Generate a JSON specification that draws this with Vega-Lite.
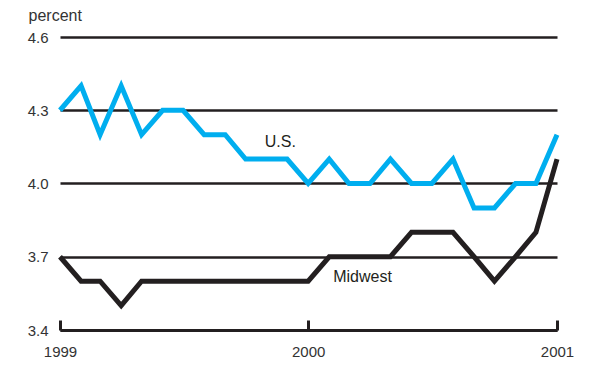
{
  "$schema": "https://vega.github.io/schema/vega-lite/v6.json",
  "width": 497,
  "height": 293,
  "autosize": {"type": "none"},
  "padding": {"left": 60, "top": 37, "right": 43, "bottom": 40},
  "background": "white",
  "config": {
    "view": {"stroke": null},
    "font": "Liberation Sans",
    "axis": {"labelFont": "Liberation Sans", "titleFont": "Liberation Sans"}
  },
  "datasets": {
    "series": [
      {"date": "1999-01-01T00:00:00", "series": "U.S.", "value": 4.3},
      {"date": "1999-02-01T00:00:00", "series": "U.S.", "value": 4.4},
      {"date": "1999-03-01T00:00:00", "series": "U.S.", "value": 4.2},
      {"date": "1999-04-01T00:00:00", "series": "U.S.", "value": 4.4},
      {"date": "1999-05-01T00:00:00", "series": "U.S.", "value": 4.2},
      {"date": "1999-06-01T00:00:00", "series": "U.S.", "value": 4.3},
      {"date": "1999-07-01T00:00:00", "series": "U.S.", "value": 4.3},
      {"date": "1999-08-01T00:00:00", "series": "U.S.", "value": 4.2},
      {"date": "1999-09-01T00:00:00", "series": "U.S.", "value": 4.2},
      {"date": "1999-10-01T00:00:00", "series": "U.S.", "value": 4.1},
      {"date": "1999-11-01T00:00:00", "series": "U.S.", "value": 4.1},
      {"date": "1999-12-01T00:00:00", "series": "U.S.", "value": 4.1},
      {"date": "2000-01-01T00:00:00", "series": "U.S.", "value": 4.0},
      {"date": "2000-02-01T00:00:00", "series": "U.S.", "value": 4.1},
      {"date": "2000-03-01T00:00:00", "series": "U.S.", "value": 4.0},
      {"date": "2000-04-01T00:00:00", "series": "U.S.", "value": 4.0},
      {"date": "2000-05-01T00:00:00", "series": "U.S.", "value": 4.1},
      {"date": "2000-06-01T00:00:00", "series": "U.S.", "value": 4.0},
      {"date": "2000-07-01T00:00:00", "series": "U.S.", "value": 4.0},
      {"date": "2000-08-01T00:00:00", "series": "U.S.", "value": 4.1},
      {"date": "2000-09-01T00:00:00", "series": "U.S.", "value": 3.9},
      {"date": "2000-10-01T00:00:00", "series": "U.S.", "value": 3.9},
      {"date": "2000-11-01T00:00:00", "series": "U.S.", "value": 4.0},
      {"date": "2000-12-01T00:00:00", "series": "U.S.", "value": 4.0},
      {"date": "2001-01-01T00:00:00", "series": "U.S.", "value": 4.2},
      {"date": "1999-01-01T00:00:00", "series": "Midwest", "value": 3.7},
      {"date": "1999-02-01T00:00:00", "series": "Midwest", "value": 3.6},
      {"date": "1999-03-01T00:00:00", "series": "Midwest", "value": 3.6},
      {"date": "1999-04-01T00:00:00", "series": "Midwest", "value": 3.5},
      {"date": "1999-05-01T00:00:00", "series": "Midwest", "value": 3.6},
      {"date": "1999-06-01T00:00:00", "series": "Midwest", "value": 3.6},
      {"date": "1999-07-01T00:00:00", "series": "Midwest", "value": 3.6},
      {"date": "1999-08-01T00:00:00", "series": "Midwest", "value": 3.6},
      {"date": "1999-09-01T00:00:00", "series": "Midwest", "value": 3.6},
      {"date": "1999-10-01T00:00:00", "series": "Midwest", "value": 3.6},
      {"date": "1999-11-01T00:00:00", "series": "Midwest", "value": 3.6},
      {"date": "1999-12-01T00:00:00", "series": "Midwest", "value": 3.6},
      {"date": "2000-01-01T00:00:00", "series": "Midwest", "value": 3.6},
      {"date": "2000-02-01T00:00:00", "series": "Midwest", "value": 3.7},
      {"date": "2000-03-01T00:00:00", "series": "Midwest", "value": 3.7},
      {"date": "2000-04-01T00:00:00", "series": "Midwest", "value": 3.7},
      {"date": "2000-05-01T00:00:00", "series": "Midwest", "value": 3.7},
      {"date": "2000-06-01T00:00:00", "series": "Midwest", "value": 3.8},
      {"date": "2000-07-01T00:00:00", "series": "Midwest", "value": 3.8},
      {"date": "2000-08-01T00:00:00", "series": "Midwest", "value": 3.8},
      {"date": "2000-09-01T00:00:00", "series": "Midwest", "value": 3.7},
      {"date": "2000-10-01T00:00:00", "series": "Midwest", "value": 3.6},
      {"date": "2000-11-01T00:00:00", "series": "Midwest", "value": 3.7},
      {"date": "2000-12-01T00:00:00", "series": "Midwest", "value": 3.8},
      {"date": "2001-01-01T00:00:00", "series": "Midwest", "value": 4.1}
    ],
    "labels": [
      {"date": "1999-11-21T00:00:00", "value": 4.17, "label": "U.S."},
      {"date": "2000-03-21T00:00:00", "value": 3.617, "label": "Midwest"}
    ]
  },
  "layer": [
    {
      "data": {"name": "series"},
      "mark": {"type": "line", "strokeWidth": 5, "strokeJoin": "miter", "strokeCap": "butt", "clip": false},
      "encoding": {
        "x": {
          "field": "date", "type": "temporal",
          "scale": {"domain": [{"year": 1999, "month": 1, "date": 1}, {"year": 2001, "month": 1, "date": 1}]},
          "axis": {
            "values": [{"year": 1999, "month": 1, "date": 1}, {"year": 2000, "month": 1, "date": 1}, {"year": 2001, "month": 1, "date": 1}],
            "format": "%Y", "title": null, "grid": false,
            "domainColor": "#231f20", "domainWidth": 3,
            "tickColor": "#231f20", "tickWidth": 3, "tickSize": -10,
            "labelPadding": 24, "labelFontSize": 15, "labelColor": "#333333",
            "labelFlush": false
          }
        },
        "y": {
          "field": "value", "type": "quantitative",
          "scale": {"domain": [3.4, 4.6], "nice": false, "zero": false},
          "axis": {
            "values": [3.4, 3.7, 4.0, 4.3, 4.6], "format": ".1f",
            "domain": false, "ticks": false, "grid": true,
            "gridColor": "#231f20", "gridWidth": 2.5, "gridOpacity": 1,
            "labelPadding": 12, "labelFontSize": 15, "labelColor": "#333333",
            "title": "percent", "titleAngle": 0, "titleAlign": "left", "titleBaseline": "middle",
            "titleX": -32, "titleY": -22, "titleFontWeight": "normal", "titleFontSize": 16, "titleColor": "#333333"
          }
        },
        "color": {
          "field": "series", "type": "nominal",
          "scale": {"domain": ["U.S.", "Midwest"], "range": ["#00aeef", "#231f20"]},
          "legend": null
        },
        "order": {"value": 0}
      }
    },
    {
      "data": {"name": "labels"},
      "mark": {"type": "text", "fontSize": 16, "color": "#231f20", "align": "center", "baseline": "middle"},
      "encoding": {
        "x": {"field": "date", "type": "temporal"},
        "y": {"field": "value", "type": "quantitative"},
        "text": {"field": "label"}
      }
    }
  ]
}
